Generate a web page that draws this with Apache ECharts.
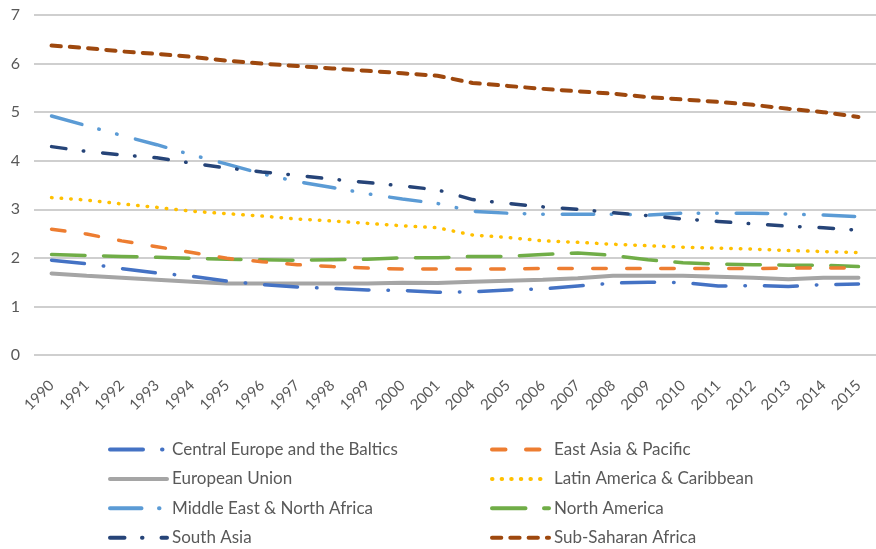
<!DOCTYPE html>
<html>
<head>
<meta charset="utf-8">
<script src="https://cdn.jsdelivr.net/npm/echarts@6/dist/echarts.min.js"></script>
<style>
  html, body { margin: 0; padding: 0; background: #fff; }
  #container { width: 876px; height: 549px; }
</style>
</head>
<body>
<div id="container"></div>
<script>
var years = ['1990', '1991', '1992', '1993', '1994', '1995', '1996', '1997', '1998', '1999', '2000', '2001',
    '2004', '2005', '2006', '2007', '2008', '2009', '2010', '2011', '2012', '2013', '2014', '2015'];

var centralEurope = [1.95, 1.88, 1.78, 1.69, 1.62, 1.52, 1.45, 1.40, 1.37, 1.34, 1.33, 1.29, 1.30, 1.34, 1.36, 1.42, 1.48, 1.50, 1.49, 1.42, 1.43, 1.41, 1.45, 1.46];
var eastAsia = [2.59, 2.49, 2.35, 2.23, 2.11, 1.99, 1.92, 1.86, 1.82, 1.79, 1.77, 1.77, 1.77, 1.77, 1.78, 1.78, 1.78, 1.78, 1.78, 1.78, 1.78, 1.79, 1.79, 1.79];
var europeanUnion = [1.68, 1.63, 1.59, 1.55, 1.51, 1.47, 1.47, 1.47, 1.47, 1.47, 1.49, 1.48, 1.51, 1.53, 1.55, 1.58, 1.63, 1.63, 1.63, 1.61, 1.59, 1.56, 1.59, 1.59];
var latinAmerica = [3.24, 3.19, 3.11, 3.04, 2.96, 2.91, 2.86, 2.80, 2.76, 2.71, 2.66, 2.62, 2.47, 2.42, 2.35, 2.32, 2.28, 2.25, 2.22, 2.20, 2.18, 2.15, 2.13, 2.11];
var middleEast = [4.92, 4.72, 4.52, 4.33, 4.12, 3.93, 3.73, 3.57, 3.45, 3.32, 3.21, 3.12, 2.96, 2.92, 2.90, 2.90, 2.90, 2.88, 2.92, 2.92, 2.92, 2.90, 2.88, 2.85];
var northAmerica = [2.07, 2.05, 2.03, 2.01, 1.99, 1.97, 1.96, 1.95, 1.96, 1.97, 2.00, 2.00, 2.03, 2.03, 2.07, 2.10, 2.05, 1.96, 1.90, 1.87, 1.86, 1.85, 1.85, 1.82];
var southAsia = [4.29, 4.19, 4.12, 4.06, 3.95, 3.85, 3.77, 3.70, 3.62, 3.55, 3.48, 3.40, 3.20, 3.12, 3.05, 3.00, 2.93, 2.87, 2.80, 2.75, 2.70, 2.65, 2.62, 2.57];
var subSaharan = [6.37, 6.32, 6.25, 6.20, 6.14, 6.06, 6.00, 5.95, 5.90, 5.85, 5.80, 5.75, 5.60, 5.54, 5.48, 5.43, 5.38, 5.31, 5.26, 5.21, 5.15, 5.07, 5.00, 4.90];

var leftNames = ['Central Europe and the Baltics', 'European Union', 'Middle East & North Africa', 'South Asia'];
var rightNames = ['East Asia & Pacific', 'Latin America & Caribbean', 'North America', 'Sub-Saharan Africa'];

var font = 'Lato, "Open Sans", sans-serif';

function line(name, data, color, width, dash) {
    return {
        name: name,
        type: 'line',
        data: data,
        symbol: 'none',
        smooth: false,
        color: color,
        lineStyle: {color: color, width: width, type: dash, cap: 'round'}
    };
}

function legendItem(name, left, top) {
    return {
        data: [name],
        left: left,
        top: top,
        padding: 0,
        itemWidth: 57,
        itemHeight: 16,
        itemGap: 0,
        itemStyle: {opacity: 0},
        lineStyle: {width: 4, cap: 'round'},
        textStyle: {fontFamily: font, fontSize: 17, color: '#595959'}
    };
}

// one legend per entry so the two columns stay fixed
var legends = [];
leftNames.forEach(function (n, i) {
    legends.push(legendItem(n, 108, 441 + i * 29.4));
});
rightNames.forEach(function (n, i) {
    legends.push(legendItem(n, 490, 441 + i * 29.4));
});

var chart = echarts.init(document.getElementById('container'));

chart.setOption({
    animation: false,
    backgroundColor: '#fff',
    grid: {left: 34, right: 0, top: 15, bottom: 194, containLabel: false},
    legend: legends,
    xAxis: {
        type: 'category',
        data: years,
        boundaryGap: true,
        axisLine: {show: false},
        axisTick: {show: false},
        axisLabel: {rotate: 45, margin: 28, fontFamily: font, fontSize: 15, color: '#595959'}
    },
    yAxis: {
        type: 'value',
        min: 0,
        max: 7,
        interval: 1,
        axisLine: {show: false},
        axisTick: {show: false},
        axisLabel: {margin: 14, fontFamily: font, fontSize: 16, color: '#595959'},
        splitLine: {lineStyle: {color: '#bfbfbf', width: 1.5}}
    },
    series: [
        line('European Union', europeanUnion, '#A5A5A5', 4, 'solid'),
        line('North America', northAmerica, '#70AD47', 3.5, [33.5, 18.5]),
        line('East Asia & Pacific', eastAsia, '#ED7D31', 3.5, [13.5, 20.5]),
        line('Central Europe and the Baltics', centralEurope, '#4472C4', 3.5, [33, 19, 0.5, 19]),
        line('Latin America & Caribbean', latinAmerica, '#FFC000', 3.5, [0.5, 9.1]),
        line('Middle East & North Africa', middleEast, '#5B9BD5', 3.5, [31.5, 17.5, 0.5, 18, 0.5, 19]),
        line('South Asia', southAsia, '#264478', 3.5, [14.5, 17.5, 0.5, 19]),
        line('Sub-Saharan Africa', subSaharan, '#9E480E', 4, [9.3, 9])
    ]
});
</script>
</body>
</html>
